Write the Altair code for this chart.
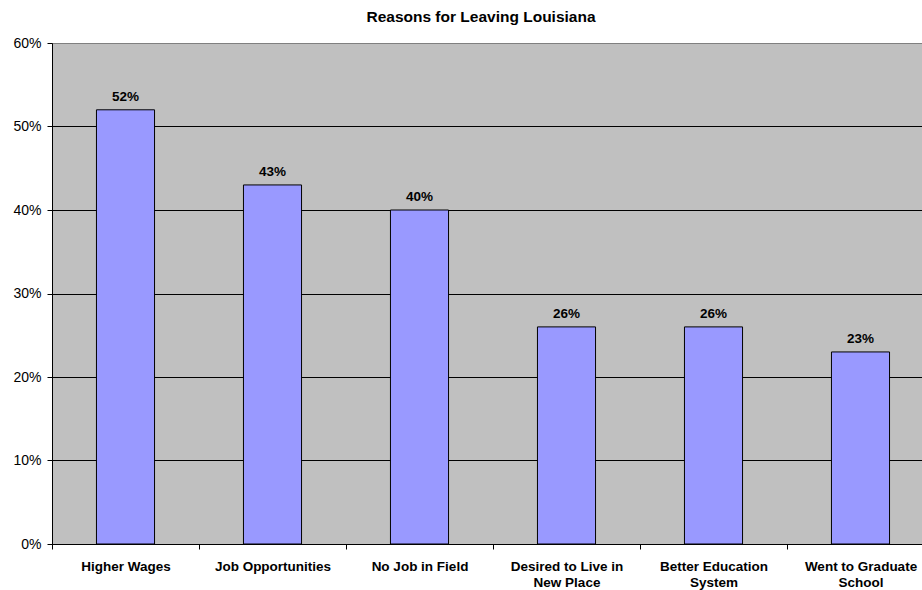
import altair as alt
import pandas as pd

categories = ["Higher Wages", "Job Opportunities", "No Job in Field",
              "Desired to Live in New Place", "Better Education System",
              "Went to Graduate School"]
label_lines = ["Higher Wages", "Job Opportunities", "No Job in Field",
               "Desired to Live in|New Place", "Better Education|System",
               "Went to Graduate|School"]
values = [0.52, 0.43, 0.40, 0.26, 0.26, 0.23]
y_ticks = [0, 0.1, 0.2, 0.3, 0.4, 0.5, 0.6]

df = pd.DataFrame({"reason": categories, "value": values, "lab": label_lines})

label_map = "{" + ",".join("'%s':'%s'" % (c, l) for c, l in zip(categories, label_lines)) + "}"

FONT = "Liberation Sans"

x_enc = alt.X("reason:N", sort=categories, title=None,
              scale=alt.Scale(domain=categories, range=[0, 882], paddingInner=0, paddingOuter=0),
              axis=alt.Axis(labelAngle=0, tickBand="extent", labelFont=FONT, labelFontSize=13.5,
                            labelFontWeight="bold", labelColor="black", domainColor="black",
                            tickColor="black", tickSize=5, labelPadding=10, labelLineHeight=16,
                            labelExpr="isValid(" + label_map + "[datum.label]) ? split(" + label_map + "[datum.label], '|') : ''",
                            labelLimit=200))
y_enc = alt.Y("value:Q", title=None,
              scale=alt.Scale(domain=[0, 0.6], nice=False),
              axis=alt.Axis(values=y_ticks, format=".0%", labelFont=FONT, labelFontSize=14,
                            labelColor="black", domainColor="black", tickColor="black",
                            tickSize=5, labelPadding=6,
                            gridColor={"condition": {"test": "datum.value >= 0.59", "value": "#808080"},
                                       "value": "black"},
                            gridWidth=1, grid=True))

bars = alt.Chart(df).mark_bar(color="#9999FF", stroke="black", strokeWidth=1,
                              width=alt.RelativeBandSize(0.395)).encode(x=x_enc, y=y_enc)

texts = alt.Chart(df).mark_text(font=FONT, fontSize=13.5, fontWeight="bold", color="black",
                                baseline="alphabetic", dy=-9).encode(
    x=alt.X("reason:N", sort=categories),
    y=alt.Y("value:Q"),
    text=alt.Text("value:Q", format=".0%"))

chart = (bars + texts).properties(
    width=870, height=501,
    title=alt.TitleParams("Reasons for Leaving Louisiana", font=FONT, fontSize=15.5,
                          fontWeight="bold", color="black", anchor="middle", offset=11, dx=-6),
    autosize=alt.AutoSizeParams(type="none"),
    padding={"left": 52, "top": 43, "right": 0, "bottom": 46},
    background="white",
).configure_view(fill="#C0C0C0", stroke="#808080", strokeWidth=1)

chart.save("out.html", embed_options={"renderer": "svg", "actions": False})
